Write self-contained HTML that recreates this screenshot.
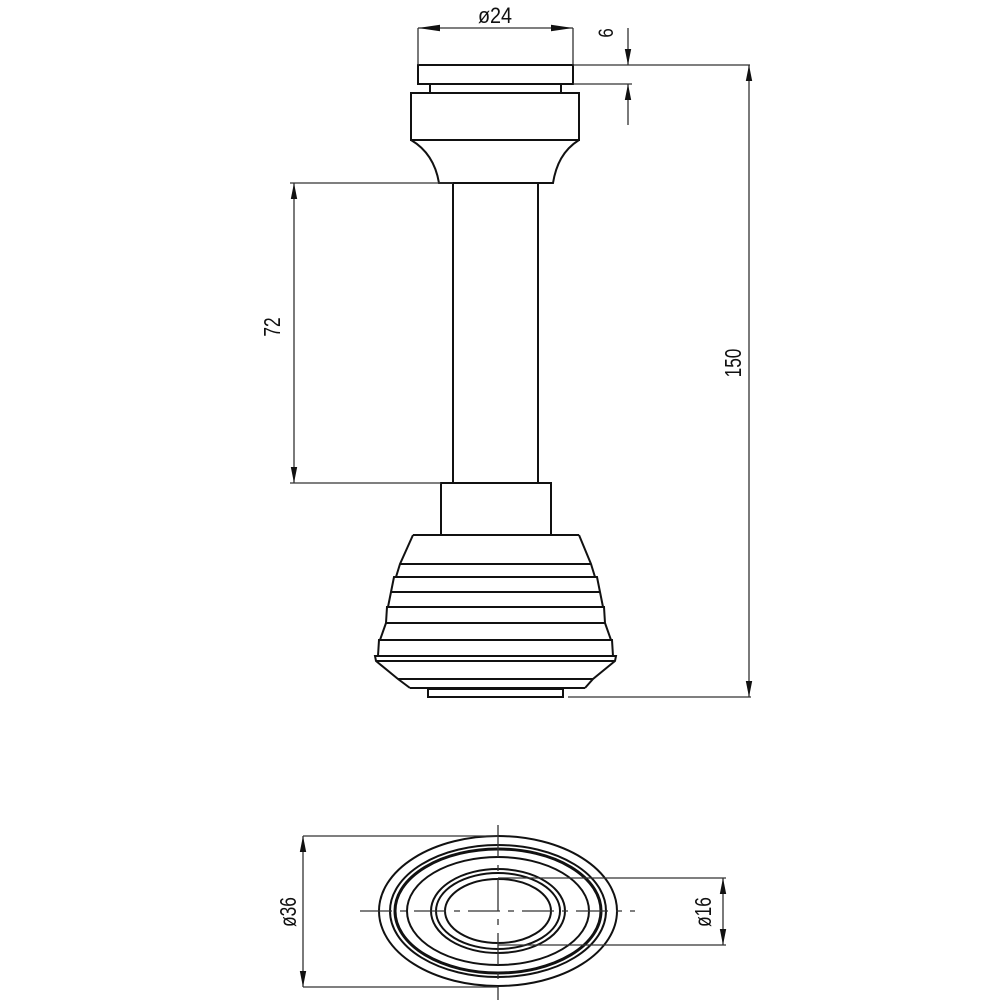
<!DOCTYPE html>
<html><head><meta charset="utf-8"><style>
html,body{margin:0;padding:0;background:#fff;}
svg{display:block;}
text{font-family:"Liberation Sans Narrow","Liberation Sans",sans-serif;fill:#111;}
</style></head><body>
<svg width="1000" height="1000" viewBox="0 0 1000 1000" xmlns="http://www.w3.org/2000/svg">
<defs>
<marker id="a" viewBox="0 0 16 8" refX="16" refY="4" markerWidth="16" markerHeight="8" orient="auto-start-reverse" markerUnits="userSpaceOnUse">
<path d="M0,0.8 L16,4 L0,7.2 Z" fill="#111"/></marker>
<marker id="b" viewBox="0 0 22 8" refX="22" refY="4" markerWidth="22" markerHeight="8" orient="auto-start-reverse" markerUnits="userSpaceOnUse">
<path d="M0,0.8 L22,4 L0,7.2 Z" fill="#111"/></marker>
</defs>
<g fill="none" stroke="#111" stroke-width="2">
<rect x="418" y="65" width="155" height="19" fill="#fff"/>
<line x1="430" y1="84" x2="430" y2="93"/><line x1="561" y1="84" x2="561" y2="93"/>
<rect x="411" y="93" width="168" height="47"/>
<path d="M411,140 C428,150 436,165 439,183 L553,183 C556,165 563,150 579,140"/>
<line x1="453" y1="183" x2="453" y2="483"/><line x1="538" y1="183" x2="538" y2="483"/>
<rect x="441" y="483" width="110" height="52"/>
<!-- bell -->
<line x1="413" y1="535" x2="579" y2="535"/>
<polyline points="413,535 400,564 396,577 394,577 391,592 391,592 388,607 387,607 386,623 380,640 379,640 378,656 375,656 376,661 398,679 410,688"/>
<polyline points="579,535 591,564 595,577 597,577 600,592 600,592 603,607 604,607 605,623 611,640 612,640 613,656 616,656 615,661 593,679 585,688"/>
<line x1="400" y1="564" x2="591" y2="564"/>
<line x1="394" y1="577" x2="597" y2="577"/>
<line x1="391" y1="592" x2="600" y2="592"/>
<line x1="387" y1="607" x2="604" y2="607"/>
<line x1="386" y1="623" x2="605" y2="623"/>
<line x1="379" y1="640" x2="612" y2="640"/>
<line x1="375" y1="656" x2="616" y2="656"/>
<line x1="376" y1="661" x2="615" y2="661"/>
<line x1="398" y1="679" x2="593" y2="679"/>
<line x1="410" y1="688" x2="585" y2="688"/>
<rect x="428" y="689" width="135" height="8"/>
</g>
<g fill="none" stroke="#333" stroke-width="1.3">
<line x1="418" y1="28" x2="418" y2="65"/><line x1="573" y1="28" x2="573" y2="65"/>
<line x1="418" y1="28" x2="573" y2="28" marker-start="url(#b)" marker-end="url(#b)"/>
<line x1="573" y1="65" x2="750" y2="65"/>
<line x1="573" y1="84" x2="632" y2="84"/>
<line x1="628" y1="28" x2="628" y2="65" marker-end="url(#a)"/>
<line x1="628" y1="125" x2="628" y2="84" marker-end="url(#a)"/>
<line x1="749" y1="65" x2="749" y2="697" marker-start="url(#a)" marker-end="url(#a)"/>
<line x1="568" y1="697" x2="751" y2="697"/>
<line x1="290" y1="183" x2="453" y2="183"/><line x1="290" y1="483" x2="441" y2="483"/>
<line x1="294" y1="183" x2="294" y2="483" marker-start="url(#a)" marker-end="url(#a)"/>
</g>
<text transform="translate(495,23) scale(0.9,1)" font-size="22" text-anchor="middle">ø24</text>
<text transform="translate(613,33) rotate(-90) scale(0.8,1)" font-size="21" text-anchor="middle">6</text>
<text transform="translate(280,327) rotate(-90) scale(0.75,1)" font-size="23" text-anchor="middle">72</text>
<text transform="translate(741,363) rotate(-90) scale(0.75,1)" font-size="23" text-anchor="middle">150</text>
<g fill="none" stroke="#111" stroke-width="2">
<ellipse cx="498" cy="911" rx="119" ry="75"/>
<ellipse cx="498" cy="911" rx="108" ry="66"/>
<ellipse cx="498" cy="911" rx="103" ry="62" stroke-width="3"/>
<ellipse cx="498" cy="911" rx="91" ry="54"/>
<ellipse cx="498" cy="911" rx="67" ry="42"/>
<ellipse cx="498" cy="911" rx="62" ry="38"/>
<ellipse cx="498" cy="911" rx="53" ry="32"/>
</g>
<g fill="none" stroke="#333" stroke-width="1.3">
<line x1="360" y1="911" x2="635" y2="911" stroke-dasharray="32,8,6,8"/>
<line x1="498" y1="825" x2="498" y2="1000" stroke-dasharray="32,8,6,8"/>
<line x1="303" y1="836" x2="498" y2="836"/><line x1="303" y1="987" x2="498" y2="987"/>
<line x1="303" y1="836" x2="303" y2="987" marker-start="url(#a)" marker-end="url(#a)"/>
<line x1="498" y1="878" x2="726" y2="878"/><line x1="498" y1="945" x2="726" y2="945"/>
<line x1="723" y1="878" x2="723" y2="945" marker-start="url(#a)" marker-end="url(#a)"/>
</g>
<text transform="translate(296,912) rotate(-90) scale(0.75,1)" font-size="23" text-anchor="middle">ø36</text>
<text transform="translate(711,912) rotate(-90) scale(0.75,1)" font-size="23" text-anchor="middle">ø16</text>
</svg>
</body></html>
